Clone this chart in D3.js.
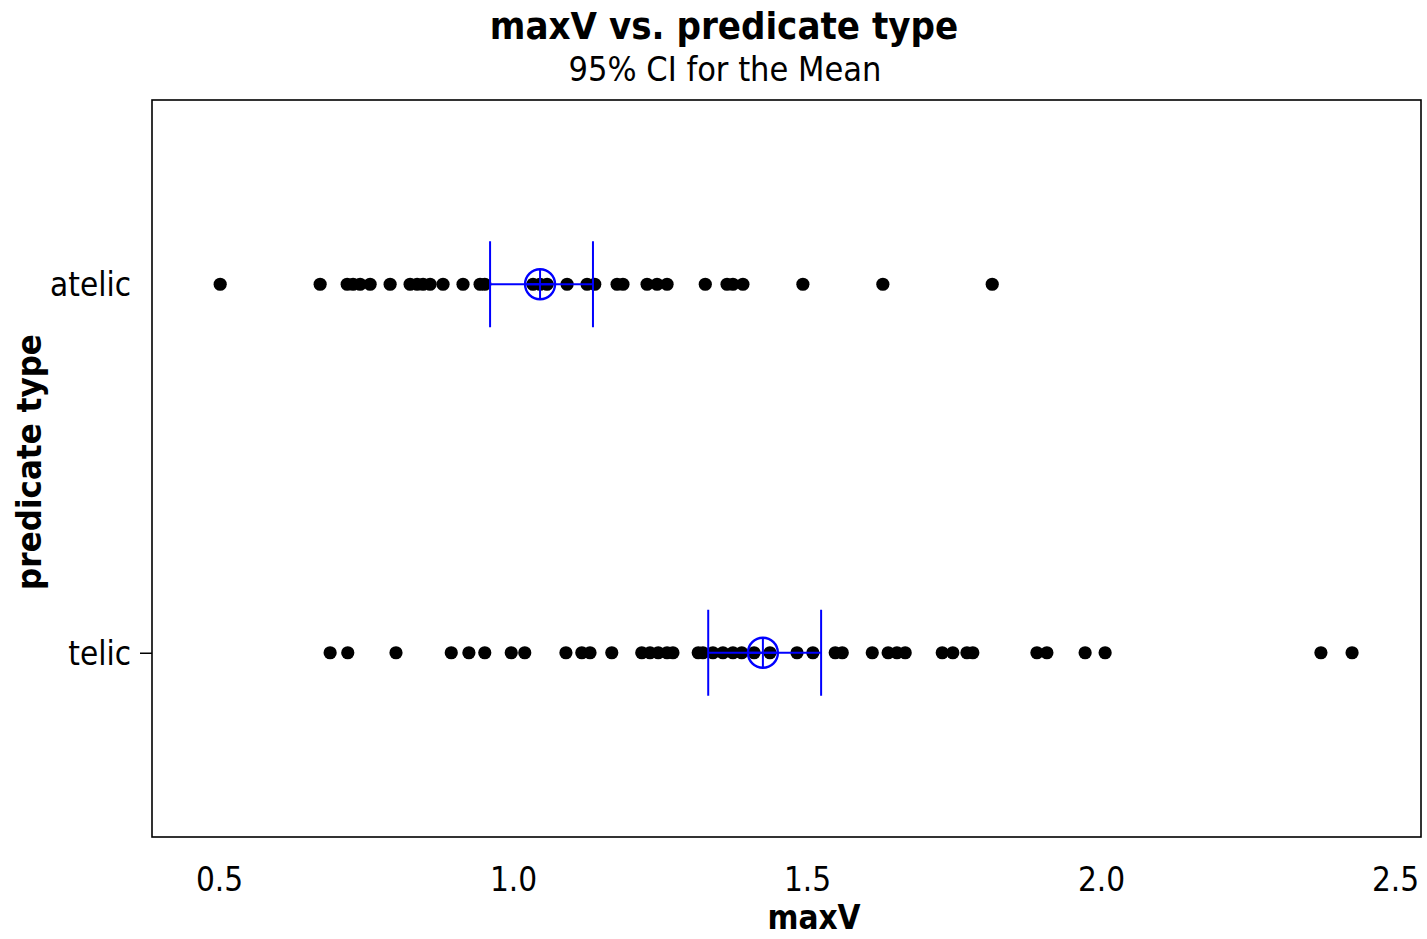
<!DOCTYPE html>
<html><head><meta charset="utf-8">
<script src="https://cdn.jsdelivr.net/npm/d3@7"></script>
<style>body{margin:0;background:#fff}svg{display:block}</style>
</head><body>
<script>
const categories = ["atelic", "telic"];
const atelicValues = [0.502,0.672,0.718,0.728,0.740,0.757,0.791,0.825,0.837,0.847,0.859,0.881,0.915,0.944,0.952,1.034,1.046,1.058,1.092,1.126,1.139,1.177,1.187,1.228,1.245,1.262,1.327,1.364,1.374,1.391,1.493,1.629,1.815];
const telicValues = [0.689,0.719,0.801,0.895,0.925,0.952,0.997,1.020,1.090,1.117,1.131,1.168,1.219,1.233,1.247,1.262,1.272,1.315,1.323,1.340,1.357,1.374,1.389,1.41,1.437,1.483,1.510,1.548,1.560,1.611,1.638,1.653,1.667,1.730,1.748,1.772,1.782,1.891,1.908,1.973,2.007,2.374,2.427];
const means = [1.046, 1.425];
const ciLower = [0.961, 1.332];
const ciUpper = [1.136, 1.524];
const xTicks = [0.5, 1.0, 1.5, 2.0, 2.5];

const W = 1427, H = 939;
const frame = {left:152, top:100, right:1421, bottom:837};
const font = "'DejaVu Sans Condensed','DejaVu Sans',sans-serif";
const blue = "#0000ff";

const svg = d3.select("body").append("svg").attr("width", W).attr("height", H);

const x = d3.scaleLinear().domain([0.5, 2.5]).range([219, 1395]);
const y = d3.scalePoint().domain(categories).range([frame.top, frame.bottom]).padding(0.5);

// frame
svg.append("rect").attr("x", frame.left).attr("y", frame.top)
  .attr("width", frame.right - frame.left).attr("height", frame.bottom - frame.top)
  .attr("fill", "none").attr("stroke", "#000").attr("stroke-width", 1.6);

// titles
svg.append("text").attr("x", 724).attr("y", 39).attr("text-anchor", "middle")
  .attr("font-family", font).attr("font-weight", "bold").attr("font-size", 38)
  .text("maxV vs. predicate type");
svg.append("text").attr("x", 725).attr("y", 81).attr("text-anchor", "middle")
  .attr("font-family", font).attr("font-size", 34)
  .text("95% CI for the Mean");

// x axis tick labels
const xAxis = d3.axisBottom(x).tickValues(xTicks).tickFormat(d3.format(".1f")).tickSize(0).tickPadding(0);
const gx = svg.append("g").attr("transform", `translate(0,${frame.bottom})`).call(xAxis);
gx.select(".domain").remove();
gx.selectAll("text").attr("font-family", font).attr("font-size", 33).attr("fill", "#000")
  .attr("dy", 0).attr("y", 54);

svg.append("text").attr("x", 814).attr("y", 929).attr("text-anchor", "middle")
  .attr("font-family", font).attr("font-weight", "bold").attr("font-size", 33)
  .text("maxV");

// y axis
const yAxis = d3.axisLeft(y).tickSize(12).tickPadding(10);
const gy = svg.append("g").attr("transform", `translate(${frame.left},0)`).call(yAxis);
gy.select(".domain").remove();
gy.selectAll("line").attr("stroke", "#000").attr("stroke-width", 1.5)
  .attr("opacity", d => d === "telic" ? 1 : 0);
gy.selectAll("text").attr("font-family", font).attr("font-size", 33).attr("fill", "#000")
  .attr("x", -21).attr("dy", "0.35em");

svg.append("text").attr("transform", `translate(41,462) rotate(-90)`).attr("text-anchor", "middle")
  .attr("font-family", font).attr("font-weight", "bold").attr("font-size", 34.5)
  .text("predicate type");

// dots
const series = [atelicValues, telicValues];
categories.forEach((c, i) => {
  svg.append("g").selectAll("circle").data(series[i]).join("circle")
    .attr("cx", d => x(d)).attr("cy", y(c)).attr("r", 6.6).attr("fill", "#000");
});

// CI
categories.forEach((c, i) => {
  const g = svg.append("g").attr("stroke", blue).attr("fill", "none").attr("stroke-width", 2);
  const cy = y(c);
  g.append("line").attr("x1", x(ciLower[i])).attr("x2", x(ciUpper[i])).attr("y1", cy).attr("y2", cy);
  [ciLower[i], ciUpper[i]].forEach(v => {
    g.append("line").attr("x1", x(v)).attr("x2", x(v)).attr("y1", cy - 43).attr("y2", cy + 43);
  });
  const mx = x(means[i]);
  g.append("circle").attr("cx", mx).attr("cy", cy).attr("r", 15).attr("stroke-width", 2.4);
  g.append("line").attr("x1", mx - 15).attr("x2", mx + 15).attr("y1", cy).attr("y2", cy);
  g.append("line").attr("x1", mx).attr("x2", mx).attr("y1", cy - 15).attr("y2", cy + 15);
});
</script>
</body></html>
